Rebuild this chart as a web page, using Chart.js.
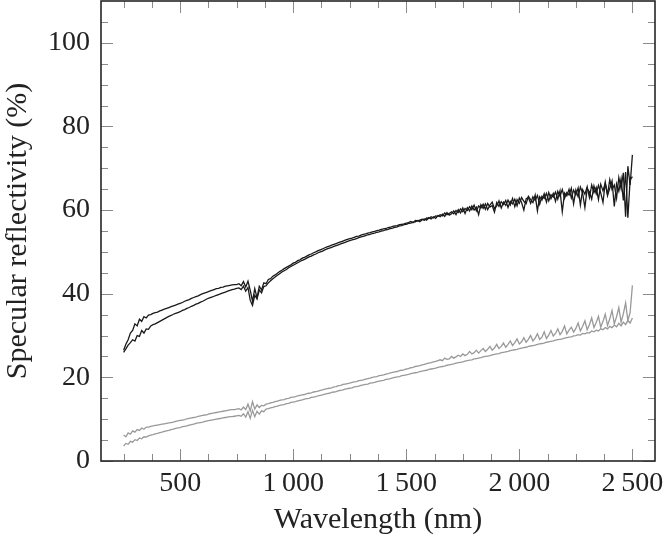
<!DOCTYPE html>
<html>
<head>
<meta charset="utf-8">
<script src="https://cdn.jsdelivr.net/npm/chart.js@4.4.0/dist/chart.umd.min.js"></script>
<style>
  html, body { margin: 0; padding: 0; background: #ffffff; }
  #wrap { width: 663px; height: 538px; }
</style>
</head>
<body>
<div id="wrap"><canvas id="c" width="663" height="538"></canvas></div>
<script>
// ---------------- data ----------------
const wavelengths = [
  250,260,270,280,290,300,310,320,330,340,
  350,360,370,380,390,400,410,420,430,440,
  450,460,470,480,490,500,510,520,530,540,
  550,560,570,580,590,600,610,620,630,640,
  650,660,670,680,690,700,710,720,730,740,
  750,760,770,780,790,800,810,820,830,840,
  850,860,870,880,890,900,910,920,930,940,
  950,960,970,980,990,1000,1010,1020,1030,1040,
  1050,1060,1070,1080,1090,1100,1110,1120,1130,1140,
  1150,1160,1170,1180,1190,1200,1210,1220,1230,1240,
  1250,1260,1270,1280,1290,1300,1310,1320,1330,1340,
  1350,1360,1370,1380,1390,1400,1410,1420,1430,1440,
  1450,1460,1470,1480,1490,1500,1510,1520,1530,1540,
  1550,1560,1570,1580,1590,1600,1610,1620,1630,1640,
  1650,1660,1670,1680,1690,1700,1710,1720,1730,1740,
  1750,1760,1770,1780,1790,1800,1810,1820,1830,1840,
  1850,1860,1870,1880,1890,1900,1910,1920,1930,1940,
  1950,1960,1970,1980,1990,2000,2010,2020,2030,2040,
  2050,2060,2070,2080,2090,2100,2110,2120,2130,2140,
  2150,2160,2170,2180,2190,2200,2210,2220,2230,2240,
  2250,2260,2270,2280,2290,2300,2310,2320,2330,2340,
  2350,2360,2370,2380,2390,2400,2410,2420,2430,2440,
  2450,2460,2470,2480,2490,2500
];

// black sample, measurement A (upper branch)
const blackA = [
  26.5,27.9,29.0,30.6,31.2,32.8,32.3,33.9,33.4,34.5,
  34.2,34.9,35.0,35.3,35.5,35.6,35.9,36.1,36.3,36.5,
  36.7,36.9,37.1,37.3,37.5,37.7,37.9,38.2,38.4,38.6,
  38.9,39.1,39.3,39.5,39.8,40.0,40.2,40.4,40.6,40.8,
  41.0,41.2,41.3,41.5,41.6,41.8,41.9,42.0,42.1,42.2,
  42.2,42.4,41.9,42.9,41.6,43.0,40.8,38.2,41.2,39.0,
  41.8,40.9,42.6,42.4,43.4,43.6,44.2,44.5,44.9,45.3,
  45.6,46.0,46.3,46.6,46.9,47.3,47.5,47.9,48.1,48.5,
  48.7,49.0,49.3,49.5,49.8,50.0,50.3,50.5,50.7,51.0,
  51.2,51.4,51.6,51.8,52.0,52.2,52.4,52.6,52.8,53.0,
  53.2,53.3,53.5,53.7,53.8,54.0,54.2,54.3,54.5,54.6,
  54.8,54.9,55.1,55.2,55.4,55.5,55.6,55.8,55.9,56.1,
  56.2,56.3,56.5,56.6,56.7,56.9,57.0,57.3,57.0,57.5,
  57.4,57.6,57.8,57.6,58.1,58.0,58.4,58.1,58.6,58.5,
  58.9,58.6,59.3,58.9,59.2,59.6,59.1,59.9,59.4,60.3,
  59.6,60.4,59.9,60.8,60.1,61.2,59.8,61.0,60.5,61.4,
  60.2,61.6,60.7,61.1,59.5,61.8,60.9,62.0,61.3,62.3,
  60.6,62.1,61.5,62.6,61.0,62.9,61.8,60.0,62.7,63.0,
  61.6,63.2,62.3,63.5,61.4,63.3,62.8,64.0,62.2,63.7,
  63.1,64.3,62.6,64.6,59.6,64.1,63.4,65.0,62.9,64.8,
  63.6,65.3,61.2,64.9,63.8,65.6,63.0,66.0,64.2,65.4,
  62.5,66.2,64.6,66.5,63.7,67.3,64.9,66.0,62.8,67.8,
  65.1,68.9,58.4,70.5,66.0,73.2
];

// black sample, measurement B (lower branch)
const blackB = [
  26.0,26.8,27.7,28.3,29.0,28.7,30.0,29.8,31.2,30.6,
  31.6,31.5,32.3,32.6,32.8,33.1,33.4,33.7,34.0,34.3,
  34.6,34.8,35.1,35.3,35.5,35.7,36.0,36.2,36.5,36.7,
  37.0,37.2,37.5,37.7,38.0,38.2,38.5,38.8,39.0,39.2,
  39.4,39.6,39.8,40.0,40.2,40.4,40.6,40.8,41.0,41.1,
  41.3,41.4,41.0,41.8,40.6,41.5,38.4,37.2,39.6,38.8,
  40.9,40.2,41.7,41.9,42.6,43.1,43.6,44.0,44.4,44.8,
  45.2,45.5,45.8,46.2,46.5,46.8,47.1,47.4,47.7,48.0,
  48.2,48.5,48.8,49.0,49.3,49.5,49.8,50.0,50.2,50.5,
  50.7,50.9,51.1,51.3,51.5,51.7,51.9,52.1,52.3,52.5,
  52.7,52.9,53.0,53.2,53.4,53.6,53.7,53.9,54.1,54.2,
  54.4,54.5,54.7,54.8,55.0,55.1,55.3,55.4,55.6,55.7,
  55.9,56.0,56.2,56.3,56.5,56.6,56.8,56.9,57.1,57.2,
  57.5,57.2,57.7,57.9,57.6,58.2,57.9,58.4,58.0,58.7,
  58.4,59.0,58.5,59.4,58.8,59.1,59.8,58.9,60.1,59.3,
  60.5,59.2,60.6,59.8,61.0,60.0,60.7,58.9,61.3,60.4,
  61.5,60.1,61.2,61.9,60.4,61.0,62.2,60.5,61.9,61.1,
  62.4,61.2,62.8,60.8,62.5,61.6,63.0,62.1,61.5,63.3,
  62.5,61.8,63.6,59.8,63.2,62.4,63.9,61.9,64.2,62.7,
  64.0,62.1,64.5,63.3,64.9,62.8,64.2,63.6,65.2,61.5,
  64.8,63.2,65.5,64.0,60.6,65.1,64.4,62.6,65.8,63.9,
  65.9,64.1,61.8,66.6,63.5,65.2,67.0,60.9,66.3,64.5,
  67.5,62.3,69.1,58.2,67.2,68.0
];

// grey sample, measurement A (upper branch)
const greyA = [
  6.2,5.8,6.7,6.4,7.2,6.9,7.5,7.3,7.9,7.6,
  8.1,8.1,8.3,8.4,8.5,8.6,8.7,8.8,8.9,9.0,
  9.1,9.2,9.3,9.5,9.6,9.7,9.8,9.9,10.1,10.2,
  10.3,10.4,10.5,10.7,10.8,10.9,11.0,11.1,11.3,11.4,
  11.5,11.6,11.7,11.8,11.9,12.0,12.1,12.2,12.3,12.3,
  12.4,12.5,12.2,12.9,12.3,13.6,12.0,14.2,12.4,13.4,
  12.8,13.3,13.2,13.6,13.7,13.9,14.0,14.2,14.3,14.5,
  14.6,14.7,14.9,15.0,15.2,15.3,15.4,15.6,15.7,15.8,
  15.9,16.1,16.2,16.3,16.5,16.6,16.7,16.9,17.0,17.2,
  17.3,17.4,17.5,17.7,17.8,18.0,18.1,18.3,18.4,18.5,
  18.6,18.8,18.9,19.0,19.2,19.3,19.4,19.6,19.7,19.8,
  20.0,20.1,20.2,20.4,20.5,20.6,20.8,20.9,21.1,21.2,
  21.3,21.4,21.6,21.7,21.8,22.0,22.1,22.3,22.4,22.6,
  22.7,22.8,23.0,23.1,23.3,23.4,23.5,23.7,23.8,24.0,
  24.2,24.0,24.6,24.3,24.4,25.0,24.6,24.9,25.3,25.0,
  25.6,25.2,25.5,26.2,25.6,25.9,26.5,25.8,26.4,26.9,
  26.2,26.7,27.4,26.5,27.0,27.9,26.9,27.4,28.2,27.2,
  27.9,28.7,27.6,28.3,29.2,28.0,28.5,29.5,28.4,29.1,
  30.0,28.7,29.4,30.4,29.1,29.6,30.9,29.3,30.1,31.2,
  29.9,30.5,31.6,30.2,31.0,32.3,30.4,31.3,32.0,30.8,
  31.7,33.0,31.1,32.2,33.5,31.4,32.6,34.2,31.9,33.1,
  34.6,32.0,33.4,35.1,32.4,34.0,36.0,32.8,34.5,36.7,
  33.2,35.2,37.8,33.6,35.5,42.0
];

// grey sample, measurement B (lower branch)
const greyB = [
  3.6,4.2,4.0,4.7,4.5,5.1,4.9,5.5,5.3,5.8,
  5.7,6.0,6.2,6.3,6.5,6.6,6.8,6.9,7.1,7.2,
  7.3,7.5,7.6,7.8,7.9,8.0,8.2,8.3,8.4,8.6,
  8.7,8.8,9.0,9.1,9.2,9.3,9.5,9.6,9.7,9.8,
  9.9,10.0,10.1,10.2,10.3,10.4,10.5,10.6,10.6,10.7,
  10.8,10.9,10.7,11.3,10.5,11.8,10.2,12.1,10.6,11.9,
  11.2,12.0,11.8,12.4,12.5,12.7,12.8,13.0,13.1,13.3,
  13.4,13.5,13.7,13.8,14.0,14.1,14.2,14.4,14.5,14.6,
  14.8,14.9,15.0,15.2,15.3,15.4,15.6,15.7,15.8,16.0,
  16.1,16.2,16.4,16.5,16.6,16.8,16.9,17.0,17.2,17.3,
  17.4,17.5,17.7,17.8,17.9,18.1,18.2,18.3,18.4,18.6,
  18.7,18.8,19.0,19.1,19.2,19.3,19.5,19.6,19.7,19.9,
  20.0,20.1,20.2,20.4,20.5,20.6,20.7,20.9,21.0,21.1,
  21.2,21.4,21.5,21.6,21.7,21.9,22.0,22.1,22.2,22.4,
  22.5,22.6,22.7,22.9,23.0,23.1,23.2,23.4,23.5,23.6,
  23.7,23.9,24.0,24.1,24.2,24.4,24.5,24.6,24.7,24.9,
  25.0,25.1,25.2,25.4,25.5,25.6,25.7,25.9,26.0,26.1,
  26.2,26.4,26.5,26.6,26.7,26.9,27.0,27.1,27.2,27.4,
  27.5,27.6,27.7,27.9,28.0,28.1,28.2,28.4,28.5,28.6,
  28.7,28.9,29.0,29.1,29.2,29.4,29.5,29.6,29.7,29.9,
  30.0,30.2,30.1,30.5,30.4,30.7,30.6,31.1,30.9,31.3,
  31.1,31.6,31.4,31.9,31.6,32.2,31.9,32.5,32.1,32.9,
  32.3,33.2,32.6,33.6,33.0,34.2
];

// tick values / labels
const xMajorTicks = [500, 1000, 1500, 2000, 2500];
const xTickLabels = ['500', '1\u2009000', '1\u2009500', '2\u2009000', '2\u2009500'];
const xMinorTicks = [250, 375, 625, 750, 875, 1125, 1250, 1375, 1625, 1750, 1875, 2125, 2250, 2375];
const yMajorTicks = [0, 20, 40, 60, 80, 100];
const yTickLabels = ['0', '20', '40', '60', '80', '100'];
const yMinorTicks = [5, 10, 15, 25, 30, 35, 45, 50, 55, 65, 70, 75, 85, 90, 95, 105];

const xTitle = 'Wavelength (nm)';
const yTitle = 'Specular reflectivity (%)';

// ---------------- chart ----------------
const FONT = "'Liberation Serif', 'Times New Roman', serif";
const toPts = arr => arr.map((v, i) => ({ x: wavelengths[i], y: v }));

const framePlugin = {
  id: 'frame',
  afterDatasetsDraw(chart) {
    const { ctx, chartArea: a, scales } = chart;
    const x = scales.x, y = scales.y;
    ctx.save();
    ctx.strokeStyle = '#8a8a8a';
    ctx.lineWidth = 1;
    ctx.beginPath();
    const xt = (v, len) => {
      const px = Math.round(x.getPixelForValue(v)) + 0.5;
      ctx.moveTo(px, a.bottom); ctx.lineTo(px, a.bottom - len);
      ctx.moveTo(px, a.top); ctx.lineTo(px, a.top + len);
    };
    const yt = (v, len) => {
      const py = Math.round(y.getPixelForValue(v)) + 0.5;
      ctx.moveTo(a.left, py); ctx.lineTo(a.left + len, py);
      ctx.moveTo(a.right, py); ctx.lineTo(a.right - len, py);
    };
    xMajorTicks.forEach(v => xt(v, 12));
    xMinorTicks.forEach(v => xt(v, 7));
    yMajorTicks.forEach(v => yt(v, 12));
    yMinorTicks.forEach(v => yt(v, 7));
    ctx.stroke();
    ctx.strokeStyle = '#262626';
    ctx.lineWidth = 1.6;
    ctx.strokeRect(a.left, a.top, a.right - a.left, a.bottom - a.top);
    ctx.restore();
  }
};

const lineDs = (data, color, w) => ({
  data: toPts(data),
  borderColor: color,
  borderWidth: w,
  pointRadius: 0,
  fill: false,
  tension: 0
});

new Chart(document.getElementById('c'), {
  type: 'line',
  data: {
    datasets: [
      lineDs(greyA, '#999999', 1.3),
      lineDs(greyB, '#999999', 1.3),
      lineDs(blackA, '#1a1a1a', 1.3),
      lineDs(blackB, '#1a1a1a', 1.3)
    ]
  },
  options: {
    responsive: false,
    animation: false,
    devicePixelRatio: 1,
    layout: { padding: { top: 1, right: 8, left: 0, bottom: 0 } },
    plugins: { legend: { display: false }, tooltip: { enabled: false } },
    scales: {
      x: {
        type: 'linear',
        min: 150,
        max: 2600,
        afterBuildTicks: s => { s.ticks = xMajorTicks.map(v => ({ value: v })); },
        afterFit: s => { s.height = 77; s.paddingLeft = 0; s.paddingRight = 0; },
        grid: { display: false, drawTicks: false },
        border: { display: false },
        ticks: {
          autoSkip: false,
          maxRotation: 0,
          padding: 6,
          color: '#222',
          font: { family: FONT, size: 28 },
          callback: v => { const i = xMajorTicks.indexOf(v); return i >= 0 ? xTickLabels[i] : ''; }
        },
        title: {
          display: true,
          text: xTitle,
          color: '#222',
          font: { family: FONT, size: 30 },
          padding: { top: 0, bottom: 0 }
        }
      },
      y: {
        type: 'linear',
        min: 0,
        max: 110,
        afterBuildTicks: s => { s.ticks = yMajorTicks.map(v => ({ value: v })); },
        afterFit: s => { s.width = 101; s.paddingTop = 0; s.paddingBottom = 0; },
        grid: { display: false, drawTicks: false },
        border: { display: false },
        ticks: {
          autoSkip: false,
          padding: 11,
          color: '#222',
          font: { family: FONT, size: 28 },
          callback: v => { const i = yMajorTicks.indexOf(v); return i >= 0 ? yTickLabels[i] : ''; }
        },
        title: {
          display: true,
          text: yTitle,
          color: '#222',
          font: { family: FONT, size: 30 },
          padding: { top: 0, bottom: 0 }
        }
      }
    }
  },
  plugins: [framePlugin]
});
</script>
</body>
</html>
